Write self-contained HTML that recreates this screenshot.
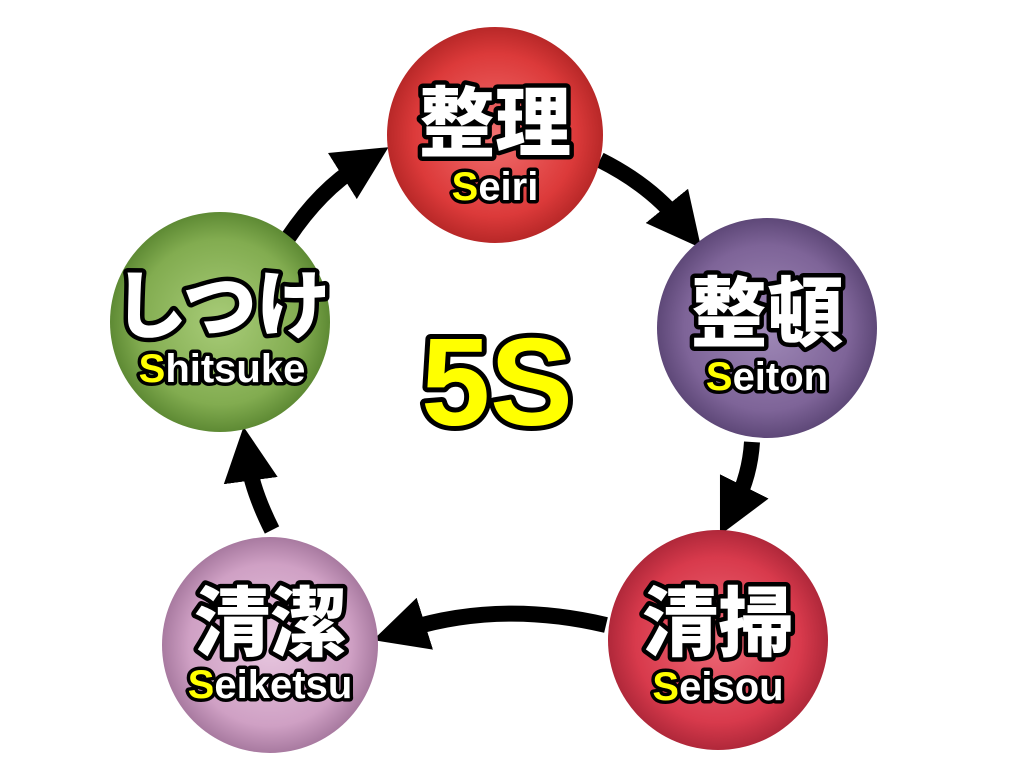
<!DOCTYPE html>
<html><head><meta charset="utf-8"><style>
html,body{margin:0;padding:0;background:#fff;width:1024px;height:768px;overflow:hidden}
</style></head><body>
<svg width="1024" height="768" viewBox="0 0 1024 768" xmlns="http://www.w3.org/2000/svg">
<defs>
<radialGradient id="gr" cx="50%" cy="50%" r="50%"><stop offset="0" stop-color="#f27070"/><stop offset="0.75" stop-color="#dc3a3a"/><stop offset="1" stop-color="#b82828"/></radialGradient>
<radialGradient id="gp" cx="50%" cy="50%" r="50%"><stop offset="0" stop-color="#a08ab8"/><stop offset="0.75" stop-color="#7e6498"/><stop offset="1" stop-color="#5e4878"/></radialGradient>
<radialGradient id="gr2" cx="50%" cy="50%" r="50%"><stop offset="0" stop-color="#ee6a78"/><stop offset="0.75" stop-color="#d83a4c"/><stop offset="1" stop-color="#b0283a"/></radialGradient>
<radialGradient id="gk" cx="50%" cy="50%" r="50%"><stop offset="0" stop-color="#e8c8e0"/><stop offset="0.75" stop-color="#cfa0c4"/><stop offset="1" stop-color="#a87aa0"/></radialGradient>
<radialGradient id="gg" cx="50%" cy="50%" r="50%"><stop offset="0" stop-color="#a8cc78"/><stop offset="0.75" stop-color="#82ac50"/><stop offset="1" stop-color="#5e8a34"/></radialGradient>
<marker id="ah" markerWidth="3.4" markerHeight="3.4" refX="1.3" refY="1.7" orient="auto" markerUnits="strokeWidth"><path d="M0,0 L3.4,1.7 L0,3.4 Z" fill="#000"/></marker>
<style>
.j{font-family:"Liberation Sans","Noto Sans CJK JP",sans-serif;font-weight:900;fill:#fff;stroke:#000;stroke-width:9px;paint-order:stroke;stroke-linejoin:round;text-anchor:middle}
.r{font-family:"Liberation Sans",sans-serif;font-weight:bold;fill:#fff;stroke:#000;stroke-width:7px;paint-order:stroke;stroke-linejoin:round;text-anchor:middle}
.a{fill:none;stroke:#000;stroke-width:16;marker-end:url(#ah)}
</style>
</defs>
<path class="a" d="M600,160 Q650,185 680,222"/>
<path class="a" d="M752,442 Q750,475 735,505"/>
<path class="a" d="M606,625 Q500,600 405,630"/>
<path class="a" d="M272,530 Q252,490 248,460"/>
<path class="a" d="M288,238 Q320,190 360,165"/>
<circle cx="495" cy="135" r="108" fill="url(#gr)"/>
<circle cx="767" cy="328" r="110" fill="url(#gp)"/>
<circle cx="718" cy="640" r="110" fill="url(#gr2)"/>
<circle cx="270" cy="645" r="108" fill="url(#gk)"/>
<circle cx="220" cy="322" r="110" fill="url(#gg)"/>
<text class="j" x="495" y="150" font-size="76">整理</text>
<text class="r" x="495" y="200" font-size="40"><tspan fill="#ffff00">S</tspan>eiri</text>
<text class="j" x="767" y="340" font-size="76">整頓</text>
<text class="r" x="767" y="390" font-size="40"><tspan fill="#ffff00">S</tspan>eiton</text>
<text class="j" x="718" y="650" font-size="76">清掃</text>
<text class="r" x="718" y="700" font-size="40"><tspan fill="#ffff00">S</tspan>eisou</text>
<text class="j" x="270" y="650" font-size="76">清潔</text>
<text class="r" x="270" y="698" font-size="40"><tspan fill="#ffff00">S</tspan>eiketsu</text>
<text class="j" x="222" y="332" font-size="74">しつけ</text>
<text class="r" x="222" y="382" font-size="40"><tspan fill="#ffff00">S</tspan>hitsuke</text>
<text x="497" y="425" font-family="Liberation Sans,sans-serif" font-weight="bold" font-size="124" fill="#ffff00" stroke="#000" stroke-width="10" paint-order="stroke" stroke-linejoin="round" text-anchor="middle">5S</text>
</svg>
</body></html>
